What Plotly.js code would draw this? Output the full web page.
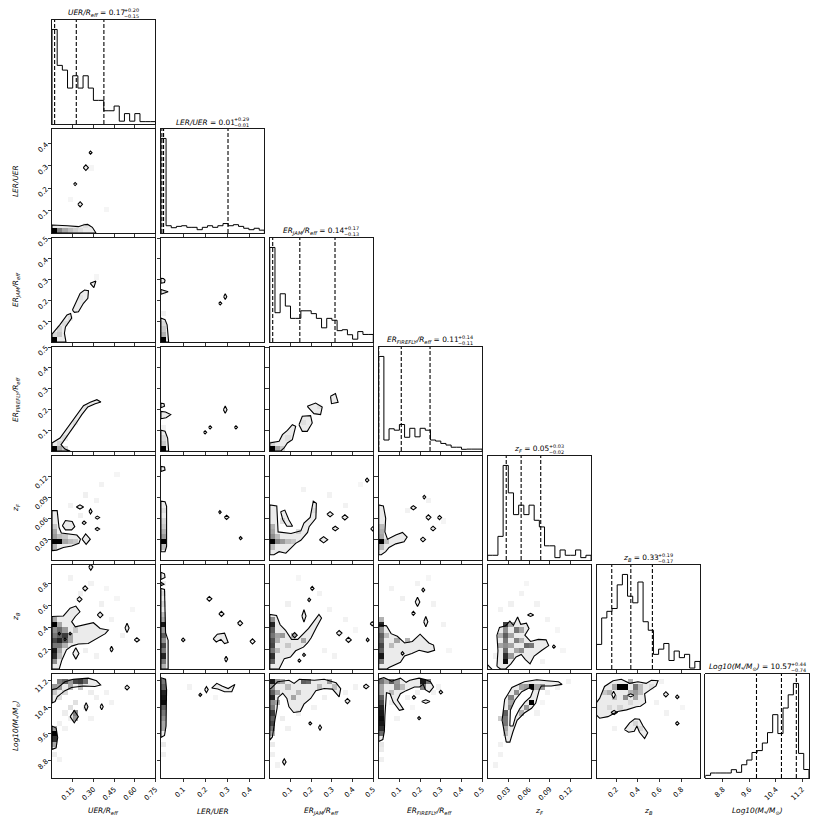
<!DOCTYPE html>
<html><head><meta charset="utf-8">
<script src="https://cdn.plot.ly/plotly-3.0.1.min.js"></script>
<style>html,body{margin:0;padding:0;background:#fff}</style>
</head><body><div id="chart" style="width:830px;height:830px"></div>
<script>
// ---------------- DATA ----------------
const axisLabels = ['<i>UER/R<sub>eff</sub></i>','<i>LER/UER</i>','<i>ER<sub>JAM</sub>/R<sub>eff</sub></i>','<i>ER<sub>FIREFLY</sub>/R<sub>eff</sub></i>','<i>z<sub>F</sub></i>','<i>z<sub>B</sub></i>','<i>Log10(M<sub>*</sub>/M<sub>⊙</sub>)</i>'];
const axisRanges = [[0,0.75],[0,0.465],[0,0.5],[0,0.5],[0,0.15],[0.02,0.97],[8.27,11.4]];
const tickVals = [[0.15,0.30,0.45,0.60,0.75],[0.1,0.2,0.3,0.4],[0.1,0.2,0.3,0.4,0.5],[0.1,0.2,0.3,0.4,0.5],[0.03,0.06,0.09,0.12],[0.2,0.4,0.6,0.8],[8.8,9.6,10.4,11.2]];
const tickText = [['0.15','0.30','0.45','0.60','0.75'],['0.1','0.2','0.3','0.4'],['0.1','0.2','0.3','0.4','0.5'],['0.1','0.2','0.3','0.4','0.5'],['0.03','0.06','0.09','0.12'],['0.2','0.4','0.6','0.8'],['8.8','9.6','10.4','11.2']];
const medianText = ['0.17','0.01','0.14','0.11','0.05','0.33','10.57'];
const errPlus = ['0.20','0.29','0.17','0.14','0.03','0.19','0.44'];
const errMinus = ['0.15','0.01','0.13','0.11','0.02','0.17','0.74'];
const q16 = [0.019,0.0045,0.014,0.0,0.027,0.16,9.815];
const q50 = [0.176,0.012,0.145,0.109,0.0486,0.335,10.57];
const q84 = [0.376,0.3015,0.315,0.248,0.077,0.533,11.02];

// 1D histograms (20 bins, normalised to peak)
const hist0 = [1.0,0.62,0.57,0.38,0.51,0.38,0.51,0.38,0.25,0.25,0.14,0.14,0.19,0.03,0.11,0.03,0.11,0.025,0.025,0.025];
const hist1 = [1.0,0.077,0.056,0.07,0.077,0.06,0.06,0.035,0.06,0.077,0.06,0.077,0.1,0.077,0.088,0.07,0.05,0.035,0.05,0.03];
const hist2 = [1.0,0.31,0.51,0.38,0.25,0.25,0.33,0.33,0.30,0.25,0.15,0.25,0.23,0.12,0.13,0.077,0.03,0.11,0.08,0.08];
const hist3 = [1.0,0.116,0.235,0.22,0.28,0.145,0.24,0.15,0.24,0.22,0.116,0.105,0.08,0.063,0.04,0.04,0.018,0.02,0.02,0.02];
const hist4 = [0.05,0.05,0.25,1.0,0.71,0.48,0.58,0.48,0.58,0.42,0.35,0.15,0.15,0.025,0.106,0.05,0.05,0.106,0.025,0.05];
const hist5 = [0.26,0.54,0.61,0.64,0.89,1.0,0.77,0.70,0.92,0.50,0.41,0.155,0.21,0.27,0.09,0.19,0.12,0.155,0.01,0.08];
const hist6 = [0.028,0.053,0.053,0.053,0.053,0.088,0.06,0.14,0.19,0.27,0.29,0.37,0.48,0.67,0.47,0.74,0.88,1.0,0.26,0.09];

// 2D panels, in histogram-bin coordinates (0..20 on each axis)
// cells: [xbin, ybin, density]; shapes: contour polygons; loops: small contour loops [cx, cy, rx, ry]; holes: empty regions inside contours
const cells10 = [[0,0,1],[1,0,0.45],[2,0,0.3],[3,0,0.2],[4,0,0.12],[5,0,0.06],[6,1,0.05],[3,6,0.04],[7,12,0.04],[10,4,0.04]];
const shapes10 = [[[0,0],[0,1.54],[3,1.4],[5.1,1.22],[6.2,1.6],[6.9,1.65],[7.8,1.1],[8.5,0]]];
const loops10 = [[7.44,15.45,0.3,0.3],[6.54,12.56,0.5,0.55],[4.47,9.42,0.3,0.3],[5.44,5.51,0.45,0.5]];

const cells20 = [[0,0,1],[1,1,0.15],[1,2,0.1],[0,1,0.08],[2,3,0.06],[3,4,0.05],[5,8,0.04],[8,12,0.04]];
const shapes20 = [[[0,0],[0,1.5],[1.5,3.3],[2.9,5.2],[3.6,5.5],[3.8,4.6],[2.6,2.9],[2.4,1.7],[2.7,0]],
  [[3.95,6.15],[5.44,9.36],[6.28,10.0],[7.05,9.87],[6.93,8.4],[6.08,7.44],[5.11,5.83],[4.34,5.7]],
  [[7.38,11.28],[8.48,11.73],[8.09,10.45]]];
const loops20 = [];

const cells21 = [[0,0,1],[0,1,0.25],[0,2,0.15],[0,3,0.08],[0,5,0.05],[0,9,0.05]];
const shapes21 = [[[0,0],[0,4.6],[0.8,4.3],[1.2,3.3],[1.5,0]],[[0,11.3],[0.7,11.45],[0.8,11.9],[0.5,12.2],[0,12.25]],[[0,9.2],[1.4,9.65],[0,10.1]]];
const loops21 = [[11.46,7.44,0.3,0.3],[12.43,8.72,0.3,0.55]];

const cells30 = [[0,0,1],[1,0,0.3],[2,0,0.15],[1,1,0.1],[2,2,0.06],[4,5,0.05],[6,8,0.04]];
const shapes30 = [[[0,0],[0,1.54],[1.55,2.5],[3.17,4.74],[4.79,6.99],[6.08,8.72],[7.38,9.36],[8.67,9.87],[9.45,9.42],[8.35,9.1],[6.93,8.46],[5.76,6.99],[4.47,5.06],[2.85,2.82],[1.75,1.22],[2.5,0.38],[3.5,0]]];
const loops30 = [];

const cells31 = [[0,0,1],[0,1,0.15],[0,2,0.08],[0,4,0.05]];
const shapes31 = [[[0,0],[0,4.0],[0.8,3.8],[1.3,2.5],[1.5,0]],[[0,8.3],[0.7,8.6],[0.6,9.1],[0,9.2]],[[0,6.2],[1.0,6.4],[1.9,7.0],[0.9,7.5],[0,7.6]]];
const loops31 = [[8.54,3.59,0.3,0.3],[9.51,4.55,0.3,0.3],[12.43,7.95,0.35,0.7],[14.5,4.55,0.3,0.3]];

const cells32 = [[0,0,1],[1,0,0.3],[2,0,0.15],[0,1,0.1],[3,2,0.05],[6,5,0.05],[9,8,0.04]];
const shapes32 = [[[0,0],[0,1.54],[1.8,1.86],[2.44,3.14],[3.4,3.97],[4.36,5.06],[5.0,4.74],[4.68,3.46],[4.36,2.18],[3.4,1.54],[2.76,0.58],[2.12,0]],
  [[5.64,5.06],[6.28,6.67],[7.88,6.79],[8.2,5.38],[7.24,3.78],[6.28,3.78]],
  [[7.24,8.59],[8.85,9.23],[10.13,8.46],[9.81,6.99],[8.53,7.18]],
  [[11.73,10.51],[12.69,11.03],[13.2,9.36],[11.92,9.1]]];
const loops32 = [];

const cells40 = [[0,3,1],[1,3,1],[2,3,0.3],[0,4,0.35],[0,5,0.3],[1,4,0.2],[0,2,0.25],[3,3,0.2],[4,3,0.15],[0,6,0.15],[2,4,0.15],[6,12,0.06],[9,14,0.05],[5,8,0.06],[8,11,0.05],[12,16,0.04],[3,10,0.05]];
const shapes40 = [[[0,1.8],[0,9.5],[1.0,9.5],[1.35,6.3],[1.8,5.2],[3.5,5.0],[4.8,4.8],[5.5,4.0],[5.2,3.2],[3.8,2.7],[2.2,2.4],[0.9,1.9]],
  [[2.0,6.6],[2.6,7.6],[3.9,7.4],[4.4,6.4],[3.8,5.8],[2.6,5.8]],
  [[5.8,4.0],[6.5,5.0],[7.4,4.0],[6.6,3.0]]];
const loops40 = [[5.4,10.2,0.7,0.4],[7.45,9.35,0.3,0.5],[8.75,8.15,0.45,0.3],[8.75,5.95,0.45,0.3],[6.2,7.15,0.4,0.35]];

const cells41 = [[0,3,1],[0,4,0.35],[0,5,0.25],[0,2,0.2],[0,6,0.15],[0,7,0.1],[0,9,0.06]];
const shapes41 = [[[0,1.6],[0,11.3],[0.8,11.2],[1.1,10.3],[1.1,2.6],[0.8,1.6]],[[0,17.0],[0.8,17.3],[0.7,17.9],[0,18.0]]];
const loops41 = [[11.4,9.2,0.25,0.3],[12.7,8.2,0.45,0.4],[15.4,4.2,0.3,0.3]];

const cells42 = [[0,3,1],[1,3,0.45],[2,3,0.35],[0,4,0.4],[0,5,0.3],[0,6,0.25],[3,3,0.2],[4,3,0.15],[1,4,0.2],[0,2,0.2],[2,7,0.12],[5,5,0.12],[8,9,0.06],[11,12,0.05],[14,10,0.05],[6,13,0.05],[17,14,0.04]];
const shapes42 = [[[0,1.0],[0,10.6],[1.35,10.4],[1.6,7.1],[1.6,5.4],[4.1,5.1],[6.0,5.6],[6.6,7.1],[7.8,8.2],[8.4,11.3],[9.0,10.9],[8.9,8.0],[7.6,6.4],[7.3,5.3],[6.0,3.8],[5.0,3.2],[4.1,2.2],[3.1,1.3],[1.8,1.6],[0.8,1.0]],
  [[2.1,9.3],[2.9,9.6],[3.7,7.7],[4.4,6.5],[3.3,6.5],[2.5,7.8]]];
const loops42 = [[11.65,8.8,0.6,0.5],[14.5,8.2,0.6,0.5],[12.65,6.05,0.6,0.45],[10.4,3.9,0.8,0.6],[18.8,15.35,0.35,0.4],[19.9,6.0,0.4,0.4]];

const cells43 = [[0,3,1],[0,4,0.3],[0,5,0.25],[1,3,0.2],[0,6,0.2],[0,2,0.2],[5,9,0.05],[9,11,0.05],[12,7,0.04]];
const shapes43 = [[[0,1.0],[0,10.6],[0.9,10.4],[1.35,8.0],[1.2,5.4],[1.7,4.0],[3.3,4.8],[4.6,5.3],[5.5,4.4],[4.9,3.5],[3.3,3.1],[2.0,2.4],[1.35,1.6],[0.5,1.0]]];
const loops43 = [[8.8,12.1,0.3,0.35],[6.7,10.05,0.55,0.4],[9.6,8.2,0.5,0.5],[11.75,8.15,0.4,0.4],[10.5,6.05,0.5,0.45],[8.55,3.95,0.5,0.45]];

const cells50 = [[0,1,0.4],[0,2,0.8],[0,3,0.9],[0,4,0.5],[0,5,0.7],[0,6,0.5],[0,7,0.4],[0,8,1],[0,9,0.3],[1,4,0.5],[1,5,0.85],[1,6,0.6],[1,7,0.55],[1,8,0.3],[2,5,0.6],[2,6,0.75],[2,7,0.35],[3,6,0.3],[3,5,0.3],[1,3,0.3],[2,4,0.25],[4,7,0.15],[1,2,0.2],
  [5,14,0.06],[7,16,0.05],[9,12,0.06],[11,9,0.05],[13,6,0.05],[6,3,0.06],[8,2,0.05],[12,13,0.04],[15,11,0.04],[3,17,0.05],[10,15,0.04]];
const shapes50 = [[[0,0],[0,10.1],[2.2,10.2],[3.5,11.7],[4.6,12.1],[5.4,11.0],[4.5,10.1],[3.8,9.1],[4.5,8.1],[6.4,8.5],[8.0,8.9],[9.3,7.8],[10.9,7.5],[10.3,6.8],[8.7,5.9],[7.0,4.9],[5.1,4.8],[3.8,4.4],[2.8,3.7],[1.9,1.7],[1.4,0]]];
const loops50 = [[4.6,3.0,0.6,1.1],[7.5,19.6,0.4,0.6],[6.4,15.5,0.5,0.5],[5.3,13.4,0.5,0.5],[9.3,10.4,0.55,0.55],[14.5,7.9,0.4,0.9],[16.4,5.6,0.5,0.4],[11.5,3.8,0.3,0.55],[1.4,6.8,0.25,0.25],[3.5,6.8,0.25,0.25],[2.5,5.7,0.25,0.25]];

const cells51 = [[0,1,0.5],[0,2,0.85],[0,3,0.5],[0,4,0.7],[0,5,0.4],[0,6,0.6],[0,7,0.35],[0,8,0.9],[0,9,0.3],[0,10,0.2],[0,0,0.25],[0,12,0.1],[0,14,0.08],[0,16,0.06]];
const shapes51 = [[[0,0],[1.4,0],[1.4,5.5],[0.9,7],[0.7,15.3],[0,15.5]],[[0,17.2],[0.8,17.6],[0.7,18.3],[0,18.6]],[[0,16.0],[0.6,16.3],[0,16.7]],
  [[10.1,5.8],[10.9,6.7],[12.3,6.9],[13.0,5.1],[12.3,4.9],[11.6,5.7],[10.7,5.2]]];
const loops51 = [[9.35,13.5,0.5,0.45],[11.7,10.6,0.5,0.5],[15.3,8.8,0.5,0.5],[17.7,5.3,0.5,0.5],[4.3,5.6,0.35,0.35],[12.6,1.9,0.3,0.55]];

const cells52 = [[0,1,0.6],[0,2,0.8],[0,3,0.5],[0,4,0.7],[0,5,0.65],[0,6,0.5],[0,7,0.6],[0,8,0.85],[0,9,0.4],[1,6,0.3],[1,5,0.25],[2,6,0.35],[4,6,0.3],[6,5,0.3],[1,3,0.2],[3,4,0.15],
  [3,12,0.06],[9,14,0.05],[11,11,0.05],[14,9,0.05],[16,7,0.04],[10,3,0.05],[12,2,0.05],[5,17,0.04]];
const shapes52 = [[[0,0],[0,10.5],[1.3,10.3],[2.0,8.5],[3.0,7.5],[4.2,5.7],[5.4,5.7],[6.6,6.8],[7.5,7.8],[9.5,10.5],[10.0,9.8],[9.0,8.0],[8.0,6.0],[7.3,5.0],[6.5,4.2],[5.0,3.5],[4.0,2.3],[2.8,2.0],[2.0,0.5],[1.8,0]]];
const loops52 = [[6.6,10.2,0.4,1.2],[8.2,15.5,0.35,0.4],[7.6,13.3,0.3,0.35],[13.4,6.9,0.55,0.5],[15.2,5.6,0.55,0.5],[18.9,5.6,0.3,0.35],[19.8,8.7,0.4,0.4],[5.7,1.6,0.3,0.3],[6.6,2.7,0.3,0.3],[4.8,6.5,0.5,0.5]];

const cells53 = [[0,1,0.5],[0,2,0.9],[0,3,0.6],[0,4,0.7],[0,5,0.55],[0,6,0.6],[0,7,0.4],[0,8,0.85],[0,9,0.3],[3,5,0.3],[5,5,0.3],[1,6,0.2],[2,4,0.2],
  [4,13,0.06],[7,16,0.05],[10,12,0.05],[12,8,0.05],[13,3,0.04],[2,15,0.05],[9,17,0.04]];
const shapes53 = [[[0,0],[0,8.5],[1.5,8.3],[2.4,6.8],[3.6,6.3],[5.0,5.0],[6.5,5.3],[8.0,6.7],[8.7,6.0],[9.7,5.0],[10.6,4.6],[10.8,3.6],[9.5,3.2],[7.8,3.6],[6.4,3.0],[5.0,2.5],[4.2,1.3],[3.0,0.8],[2.0,0.3],[1.6,0]]];
const loops53 = [[8.6,15.2,0.3,0.35],[7.5,12.9,0.45,0.9],[6.7,10.7,0.35,0.4],[9.1,9.1,0.4,1.0],[4.6,3.0,0.3,0.35]];

const cells54 = [[3,8,0.75],[3,7,0.4],[3,6,0.6],[3,5,0.5],[3,4,0.4],[3,3,0.55],[3,2,0.8],[3,1,0.95],[4,6,0.3],[4,4,0.3],[5,5,0.45],[6,7,0.3],[6,3,0.4],[7,4,0.55],[8,4,0.5],[4,2,0.35],[5,3,0.3],[2,4,0.3],[5,7,0.5],[4,8,0.3],[2,6,0.25],[6,5,0.25],
  [4,12,0.06],[6,14,0.05],[9,12,0.05],[11,9,0.05],[13,7,0.04],[2,11,0.05],[7,16,0.04],[14,3,0.04],[10,1,0.05],[1,2,0.06]];
const shapes54 = [[[1.8,0.5],[2.0,3.5],[1.8,6.5],[2.3,8.0],[3.5,8.3],[4.3,9.2],[5.0,8.4],[5.8,10.0],[6.4,8.6],[7.5,8.8],[8.0,7.8],[7.2,6.5],[8.3,5.3],[9.8,5.7],[11.3,5.6],[11.8,4.5],[10.5,3.6],[9.0,2.5],[8.2,1.0],[7.3,1.8],[6.5,2.8],[5.5,2.3],[4.5,1.0],[3.5,0],[2.5,0]]];
const loops54 = [[8.3,10.4,0.6,0.3],[12.8,4.3,0.3,0.3],[0,0,0.8,0.8]];

const cells60 = [[1,18,0.5],[2,18,0.6],[4,18,0.7],[5,18,0.75],[6,18,0.55],[3,17,0.3],[0,17,0.4],[1,17,0.35],[0,8,1],[0,7,0.8],[0,6,0.3],[0,9,0.35],[4,12,0.45],[4,11,0.35],[3,18,0.35],[5,17,0.25],[2,16,0.15],[1,15,0.12],[0,16,0.15],[3,13,0.12],[4,14,0.12],
  [7,16,0.07],[8,15,0.06],[6,13,0.08],[2,12,0.07],[3,11,0.06],[1,10,0.06],[0,4,0.07],[1,3,0.05],[10,16,0.05],[11,14,0.05],[7,11,0.05],[2,9,0.05]];
const shapes60 = [[[0,14.4],[0.6,14.7],[1.0,15.6],[2.5,16.8],[3.8,17.4],[6.1,17.7],[8.3,17.6],[9.4,17.9],[8.6,18.7],[7.0,19.2],[4.1,19.0],[2.5,18.5],[0.9,17.2],[0,17.0]],
  [[0,5.5],[0,10.0],[0.8,9.6],[1.1,7.8],[0.8,5.8]]];
const loops60 = [[4.3,11.8,0.8,1.2],[6.6,13.7,0.35,0.8],[9.6,13.7,0.3,0.6],[14.5,17.4,0.45,0.45]];

const cells61 = [[0,18,0.5],[0,17,0.6],[0,16,0.85],[0,15,0.9],[0,14,0.95],[0,13,0.6],[0,12,0.5],[0,11,0.4],[0,10,0.3],[0,9,0.3],[0,6,0.08],[0,4,0.06],[5,17,0.05],[10,15,0.04]];
const shapes61 = [[[0,7.8],[0,19.3],[0.9,19.0],[1.1,17],[1.0,10],[0.7,8.2]],
  [[9.8,17.3],[10.8,18.2],[11.8,17.7],[13.0,17.2],[14.3,18.0],[13.7,16.6],[12.3,16.6],[11.0,17.1]]];
const loops61 = [[7.6,16.0,0.3,0.3],[8.8,17.0,0.35,0.6]];

const cells62 = [[0,18,0.9],[0,17,0.4],[0,16,0.6],[0,15,0.85],[0,14,0.4],[0,13,0.5],[0,12,0.75],[0,11,0.6],[0,10,0.7],[0,9,0.5],[0,8,0.3],[1,16,0.3],[1,14,0.3],[2,18,0.3],[6,18,0.6],[7,18,0.55],[11,18,0.35],[4,15,0.3],[1,18,0.4],[3,17,0.2],[5,16,0.2],[9,17,0.2],[12,17,0.2],
  [0,6,0.08],[0,4,0.06],[2,11,0.07],[3,9,0.06],[5,12,0.06],[8,13,0.05],[10,15,0.06],[14,16,0.05],[16,17,0.05],[1,2,0.05]];
const shapes62 = [[[0,7.3],[0,17.2],[0.2,17.2],[1.5,18.5],[3.7,18.8],[4.7,18.2],[5.7,19.0],[8.6,18.8],[10.5,19.0],[12.8,18.3],[13.7,17.2],[13.4,15.6],[12.1,17.1],[10.5,17.2],[8.9,16.8],[7.9,15.3],[6.6,14.2],[5.9,12.8],[4.6,12.6],[3.7,13.7],[3.3,15.3],[2.5,16.3],[1.6,15.5],[1.4,13.4],[1.0,11.2],[0.5,7.9]]];
const loops62 = [[2.8,3.1,0.35,0.6],[7.8,10.5,0.3,0.3],[9.7,9.7,0.3,0.5],[15.0,14.8,0.5,0.5],[18.6,17.6,0.55,0.45]];

const cells63 = [[0,8,0.55],[0,9,0.8],[0,10,0.9],[0,11,0.95],[0,12,0.9],[0,13,0.85],[0,14,0.7],[0,15,0.6],[0,16,0.3],[0,18,0.5],[2,18,0.6],[3,17,0.4],[8,18,0.9],[8,17,0.5],[9,18,0.5],[3,18,0.35],[1,18,0.3],[0,17,0.3],[2,16,0.2],[4,17,0.2],
  [0,6,0.1],[0,5,0.08],[0,3,0.06],[2,14,0.06],[5,15,0.06],[7,16,0.06],[10,16,0.05],[11,17,0.05],[3,11,0.05],[6,13,0.04]];
const shapes63 = [[[0,7.0],[0,19.0],[1.0,19.3],[2.5,18.6],[4.2,19.2],[5.3,18.4],[6.0,18.8],[7.8,19.2],[8.8,19.0],[10.0,18.5],[10.6,17.5],[9.8,16.5],[9.0,17.0],[8.6,18.0],[7.9,17.5],[6.9,17.5],[5.3,16.8],[4.2,16.2],[3.6,15.0],[4.8,13.2],[4.0,13.0],[2.8,14.6],[2.2,16.2],[1.5,16.4],[1.2,12.0],[1.1,9.0],[0.8,7.4]]];
const loops63 = [[6.8,15.5,0.35,0.35],[9.1,14.7,0.8,0.35],[7.8,11.5,0.3,0.3],[12.0,16.5,0.35,0.35]];

const cells64 = [[8,17,1],[8,14,1],[3,12,0.6],[3,11,0.5],[4,13,0.4],[3,10,0.5],[4,15,0.45],[5,16,0.4],[7,17,0.35],[10,17,0.4],[9,17,0.3],[7,13,0.35],[3,9,0.3],[4,14,0.3],[6,17,0.3],[2,11,0.2],[3,8,0.2],[6,12,0.25],
  [2,6,0.06],[2,4,0.05],[1,2,0.05],[11,16,0.05],[13,17,0.06],[15,18,0.05],[9,12,0.05],[10,14,0.04]];
const shapes64 = [[[3.6,6.9],[2.8,11.1],[3.3,15.1],[4.7,17.4],[7.1,18.5],[9.5,18.9],[11.4,18.7],[13.7,18.5],[14.4,18.0],[12.3,17.7],[10.4,17.7],[10.0,17.0],[9.3,14.4],[8.5,13.4],[7.1,12.5],[5.7,11.1],[4.9,8.9],[4.3,6.9]]];
const loops64 = [];
const holes64 = [[[4.3,10.0],[4.4,13.0],[5.3,15.0],[6.6,16.6],[8.0,17.3],[8.8,16.9],[8.3,15.6],[7.2,14.6],[6.2,13.3],[5.4,11.8],[4.9,10.0]]];

const cells65 = [[4,17,1],[5,17,1],[7,17,0.5],[7,16,0.35],[5,15,0.4],[7,15,0.3],[2,16,0.25],[3,17,0.3],[6,16,0.25],[8,16,0.2],[6,18,0.3],[1,16,0.15],[3,15,0.2],[8,17,0.2],
  [2,13,0.08],[4,13,0.1],[6,14,0.08],[7,10,0.1],[8,9,0.08],[11,14,0.05],[13,12,0.05],[3,9,0.05],[10,17,0.06],[12,18,0.05],[16,13,0.04]];
const shapes65 = [[[0,12.1],[0,14.5],[0.6,15.3],[1.55,17.6],[3.2,18.7],[4.8,19.0],[6.4,18.2],[8.0,18.5],[9.6,18.2],[10.6,18.8],[11.9,18.7],[11.5,17.7],[10.3,16.9],[9.3,16.2],[9.5,14.5],[8.5,13.8],[7.7,13.7],[5.8,13.1],[4.1,12.8],[2.2,11.8],[0.6,11.5]],
  [[5.4,9.3],[6.4,10.6],[7.4,11.4],[8.3,11.3],[9.0,10.0],[9.9,8.7],[9.3,7.6],[8.3,8.8],[7.8,10.0],[7.3,9.0],[6.2,8.8]]];
const loops65 = [[3.4,12.6,0.6,0.4],[13.4,16.1,0.5,0.5],[15.6,15.6,0.35,0.35],[15.6,10.5,0.35,0.35]];
const holes65 = [[[2.95,16.0],[3.3,16.7],[3.65,16.0],[3.3,15.3]],[[6.0,15.9],[6.6,16.2],[7.2,15.9],[6.6,15.6]]];

// ---------------- BUILD ----------------
const hists = [hist0,hist1,hist2,hist3,hist4,hist5,hist6];
const panels = {
  '1_0':{c:cells10,s:shapes10,l:loops10},
  '2_0':{c:cells20,s:shapes20,l:loops20},'2_1':{c:cells21,s:shapes21,l:loops21},
  '3_0':{c:cells30,s:shapes30,l:loops30},'3_1':{c:cells31,s:shapes31,l:loops31},'3_2':{c:cells32,s:shapes32,l:loops32},
  '4_0':{c:cells40,s:shapes40,l:loops40},'4_1':{c:cells41,s:shapes41,l:loops41},'4_2':{c:cells42,s:shapes42,l:loops42},'4_3':{c:cells43,s:shapes43,l:loops43},
  '5_0':{c:cells50,s:shapes50,l:loops50},'5_1':{c:cells51,s:shapes51,l:loops51},'5_2':{c:cells52,s:shapes52,l:loops52},'5_3':{c:cells53,s:shapes53,l:loops53},'5_4':{c:cells54,s:shapes54,l:loops54},
  '6_0':{c:cells60,s:shapes60,l:loops60},'6_1':{c:cells61,s:shapes61,l:loops61},'6_2':{c:cells62,s:shapes62,l:loops62},'6_3':{c:cells63,s:shapes63,l:loops63},'6_4':{c:cells64,s:shapes64,l:loops64,h:holes64},'6_5':{c:cells65,s:shapes65,l:loops65,h:holes65}
};

const W = 830, PW = 103.5, PH = 104;
const colLeft = j => 52 + j*108.9;
const rowTop = i => 20 + i*109;
const edges = r => Array.from({length:21},(_,n)=>r[0]+n*(r[1]-r[0])/20);
const centers = r => Array.from({length:20},(_,n)=>r[0]+(n+0.5)*(r[1]-r[0])/20);
const toData = (r,u) => r[0]+u*(r[1]-r[0])/20;

const FONT = 'DejaVu Sans';
const axBase = {showgrid:false, zeroline:false, showline:true, mirror:true, linecolor:'#000', linewidth:0.9,
  ticks:'outside', ticklen:3.5, tickwidth:0.8, tickcolor:'#000', tickangle:-45, tickmode:'array',
  tickfont:{family:FONT,size:7,color:'#000'}, fixedrange:true};

const layout = {width:W, height:W, margin:{l:0,r:0,t:0,b:0}, showlegend:false, paper_bgcolor:'#fff', plot_bgcolor:'#fff',
  font:{family:FONT,color:'#000',size:7.4}, annotations:[]};
const heatTraces = [], lineTraces = [];
let k = 0;
for (let i=0;i<7;i++){
  for (let j=0;j<=i;j++){
    k++;
    const xn = k===1?'x':'x'+k, yn = k===1?'y':'y'+k;
    const xa = k===1?'xaxis':'xaxis'+k, ya = k===1?'yaxis':'yaxis'+k;
    const left = colLeft(j), top = rowTop(i);
    layout[xa] = Object.assign({}, axBase, {domain:[left/W,(left+PW)/W], anchor:yn, range:axisRanges[j],
      tickvals:tickVals[j], ticktext:tickText[j], showticklabels:i===6});
    if (i===j){
      layout[ya] = Object.assign({}, axBase, {domain:[1-(top+PH)/W,1-top/W], anchor:xn, range:[0,1.1], ticks:'', showticklabels:false, tickvals:[]});
      const e = edges(axisRanges[j]), h = hists[j];
      const hx=[e[0]], hy=[0];
      for (let n=0;n<20;n++){hx.push(e[n]); hy.push(h[n]);}
      hx.push(e[20]); hy.push(h[19]); hx.push(e[20]); hy.push(0);
      lineTraces.push({type:'scatter',mode:'lines',x:hx,y:hy,xaxis:xn,yaxis:yn,line:{color:'#000',width:1,shape:'hv'},hoverinfo:'skip'});
      lineTraces.push({type:'scatter',mode:'lines',x:[q16[j],q16[j],null,q50[j],q50[j],null,q84[j],q84[j]],y:[0,1.1,null,0,1.1,null,0,1.1],
        xaxis:xn,yaxis:yn,line:{color:'#000',width:1.1,dash:'4px,2px'},hoverinfo:'skip'});
    } else {
      layout[ya] = Object.assign({}, axBase, {domain:[1-(top+PH)/W,1-top/W], anchor:xn, range:axisRanges[i],
        tickvals:tickVals[i], ticktext:tickText[i], showticklabels:j===0});
      const P = panels[i+'_'+j];
      const z = Array.from({length:20},()=>Array(20).fill(null));
      P.c.forEach(([a,b,v])=>{ z[b][a]=v; });
      heatTraces.push({type:'heatmap',x:centers(axisRanges[j]),y:centers(axisRanges[i]),z:z,xaxis:xn,yaxis:yn,zmin:0,zmax:1,
        colorscale:[[0,'#ffffff'],[1,'#000000']],showscale:false,hoverinfo:'skip'});
      const poly = (pts, fill) => {
        const xs = pts.map(p=>toData(axisRanges[j],p[0])), ys = pts.map(p=>toData(axisRanges[i],p[1]));
        xs.push(xs[0]); ys.push(ys[0]);
        lineTraces.push({type:'scatter',mode:'lines',x:xs,y:ys,xaxis:xn,yaxis:yn,fill:'toself',fillcolor:fill,
          line:{color:'#000',width:1.1},hoverinfo:'skip'});
      };
      P.s.forEach(p=>poly(p,'rgba(0,0,0,0.08)'));
      P.l.forEach(([a,b,rx,ry])=>poly([[a-rx,b],[a,b+ry],[a+rx,b],[a,b-ry]],'rgba(0,0,0,0.08)'));
      (P.h||[]).forEach(p=>poly(p,'#ffffff'));
    }
  }
}

const TS = 7.4, SS = 4.9, SCRIPT_GAP = -3.0;
const titleRefs = [];
for (let d=0; d<7; d++){
  const main = axisLabels[d]+' = '+medianText[d];
  const sup = '+'+errPlus[d], sub = '\u2212'+errMinus[d];
  const cx = colLeft(d)+PW/2, top = rowTop(d);
  const ref = {cx:cx, m:layout.annotations.length};
  layout.annotations.push({xref:'paper',yref:'paper',x:(cx+7)/W,y:1-(top-6.7)/W,xanchor:'right',yanchor:'middle',text:main,showarrow:false,borderpad:0,font:{family:FONT,size:TS,color:'#000'}});
  ref.p = layout.annotations.length;
  layout.annotations.push({xref:'paper',yref:'paper',x:(cx+7+SCRIPT_GAP)/W,y:1-(top-9.6)/W,xanchor:'left',yanchor:'middle',text:sup,showarrow:false,borderpad:0,font:{family:FONT,size:SS,color:'#000'}});
  ref.b = layout.annotations.length;
  layout.annotations.push({xref:'paper',yref:'paper',x:(cx+7+SCRIPT_GAP)/W,y:1-(top-4.2)/W,xanchor:'left',yanchor:'middle',text:sub,showarrow:false,borderpad:0,font:{family:FONT,size:SS,color:'#000'}});
  titleRefs.push(ref);
  layout.annotations.push({xref:'paper',yref:'paper',x:(colLeft(d)+PW/2)/W,y:1-811/W,xanchor:'center',yanchor:'middle',text:axisLabels[d],showarrow:false,borderpad:0,font:{family:FONT,size:TS,color:'#000'}});
  if (d>0){
    layout.annotations.push({xref:'paper',yref:'paper',x:16/W,y:1-(rowTop(d)+PH/2)/W,xanchor:'center',yanchor:'middle',textangle:-90,text:axisLabels[d],showarrow:false,borderpad:0,font:{family:FONT,size:TS,color:'#000'}});
  }
}

Plotly.newPlot('chart', heatTraces.concat(lineTraces), layout, {staticPlot:true, displayModeBar:false}).then(gd => {
  const get = n => gd.querySelector('.annotation[data-index="'+n+'"] text');
  const upd = {};
  titleRefs.forEach(t => {
    const mEl = get(t.m), pEl = get(t.p), bEl = get(t.b);
    if (!mEl || !pEl || !bEl) return;
    const mw = mEl.getBoundingClientRect().width;
    const sw = Math.max(pEl.getBoundingClientRect().width, bEl.getBoundingClientRect().width);
    const total = mw + sw + SCRIPT_GAP;
    const right = t.cx - total/2 + mw;
    upd['annotations['+t.m+'].x'] = right/W;
    upd['annotations['+t.p+'].x'] = (right+SCRIPT_GAP)/W;
    upd['annotations['+t.b+'].x'] = (right+SCRIPT_GAP)/W;
  });
  return Plotly.relayout(gd, upd);
});
</script></body></html>
